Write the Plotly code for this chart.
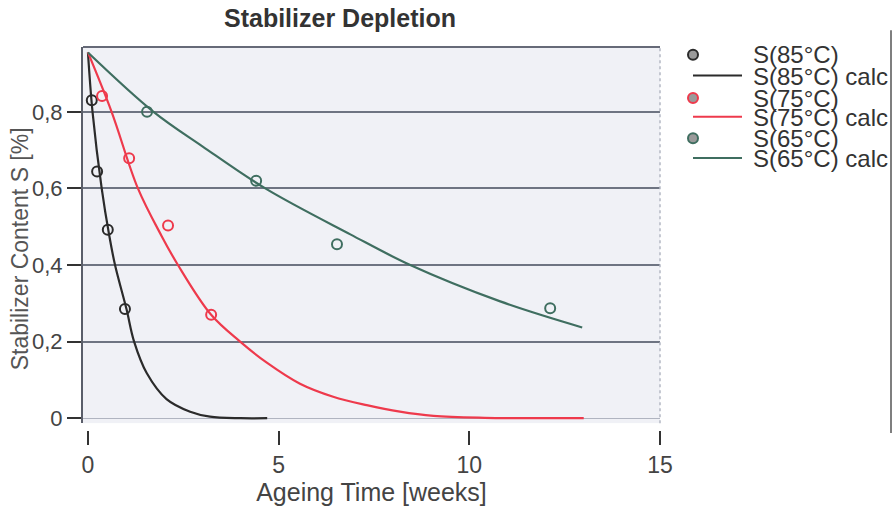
import plotly.graph_objects as go

# ---- data ----
t85_meas = [0.10, 0.24, 0.52, 0.97]
s85_meas = [0.830, 0.644, 0.492, 0.285]
t75_meas = [0.37, 1.08, 2.10, 3.23]
s75_meas = [0.841, 0.679, 0.503, 0.270]
t65_meas = [1.55, 4.41, 6.53, 12.12]
s65_meas = [0.800, 0.620, 0.454, 0.287]

t85_calc = [0, 0.12, 0.36, 0.56, 0.71, 1.01, 1.21, 1.54, 2.06, 2.68, 3.2, 4.0, 4.7]
s85_calc = [0.955, 0.80, 0.60, 0.476, 0.40, 0.285, 0.20, 0.118, 0.05, 0.017, 0.004, 0.0, 0.0]
t75_calc = [0, 0.62, 1.31, 1.93, 2.36, 3.23, 3.99, 4.69, 5.56, 6.43, 7.31, 8.18, 9.06, 10.4, 11.7, 13.0]
s75_calc = [0.955, 0.80, 0.60, 0.476, 0.40, 0.27, 0.20, 0.145, 0.09, 0.056, 0.034, 0.017, 0.006, 0.001, 0.0, 0.0]
t65_calc = [0, 1.72, 3.0, 4.65, 6.88, 8.45, 10.81, 12.96]
s65_calc = [0.955, 0.80, 0.71, 0.60, 0.48, 0.40, 0.305, 0.237]

legend_labels = ["S(85°C)", "S(85°C) calc", "S(75°C)", "S(75°C) calc", "S(65°C)", "S(65°C) calc"]
x_ticks = [0, 5, 10, 15]
y_ticks = [0, 0.2, 0.4, 0.6, 0.8]

C85, C75, C65 = "#2b2b2b", "#ee3a4c", "#3f6e60"
FONT = "Liberation Sans, Arial"

fig = go.Figure()
for tx, sy, c in [(t85_calc, s85_calc, C85), (t75_calc, s75_calc, C75), (t65_calc, s65_calc, C65)]:
    fig.add_trace(go.Scatter(x=tx, y=sy, mode="lines", line=dict(color=c, width=2.2, shape="spline", smoothing=1.0),
                             showlegend=False, hoverinfo="skip"))
for tx, sy, c in [(t85_meas, s85_meas, C85), (t75_meas, s75_meas, C75), (t65_meas, s65_meas, C65)]:
    fig.add_trace(go.Scatter(x=tx, y=sy, mode="markers",
                             marker=dict(symbol="circle-open", size=10, color=c, line=dict(width=2, color=c)),
                             showlegend=False))

W, H = 895, 510
L, R, T, B = 83, 235, 47, 73
pw, ph = W - L - R, H - T - B

def px2x(px):
    return (px - L) / pw

def py2y(py):
    return (H - B - py) / ph

shapes = []
annotations = []
# frame top / right
shapes.append(dict(type="line", xref="x domain", yref="y domain", x0=0, x1=1, y0=1, y1=1,
                   line=dict(color="#666a78", width=2)))
shapes.append(dict(type="line", xref="x domain", yref="y domain", x0=1, x1=1, y0=0, y1=1,
                   line=dict(color="#b4b8c4", width=1.5, dash="dot")))
# scan edge line on the right
shapes.append(dict(type="line", xref="paper", yref="paper", x0=px2x(891), x1=px2x(891), y0=py2y(30), y1=py2y(440),
                   line=dict(color="#555555", width=1.5)))

# legend drawn as annotations and symbol shapes
leg_y = [55, 77, 99, 119, 140, 161]
leg_kind = ["m", "l", "m", "l", "m", "l"]
leg_col = [C85, C85, C75, C75, C65, C65]
for lab, yy, k, c in zip(legend_labels, leg_y, leg_kind, leg_col):
    annotations.append(dict(text=lab, xref="paper", yref="paper", x=px2x(751), y=py2y(yy),
                            xanchor="left", yanchor="middle", showarrow=False,
                            font=dict(family=FONT, size=24, color="#333333")))
    if k == "m":
        shapes.append(dict(type="circle", xref="paper", yref="paper", xsizemode="pixel", ysizemode="pixel",
                           xanchor=px2x(693), yanchor=py2y(yy), x0=-5, x1=5, y0=-5, y1=5,
                           fillcolor="#9a9a9a", line=dict(color=c, width=2)))
    else:
        shapes.append(dict(type="line", xref="paper", yref="paper", x0=px2x(693), x1=px2x(742),
                           y0=py2y(yy - 1), y1=py2y(yy - 1), line=dict(color=c, width=2)))

# y axis title
annotations.append(dict(text="Stabilizer Content S [%]", xref="paper", yref="paper", x=px2x(20), y=py2y(253),
                        xanchor="center", yanchor="middle", textangle=-90, showarrow=False,
                        font=dict(family=FONT, size=23, color="#555555")))

fig.update_layout(
    width=W, height=H,
    margin=dict(l=L, r=R, t=T, b=B),
    paper_bgcolor="white",
    plot_bgcolor="#f0f1f6",
    separators=",.",
    title=dict(text="<b>Stabilizer Depletion</b>", xref="container", yref="container",
               x=340 / W, y=1 - 18 / H, xanchor="center", yanchor="middle",
               font=dict(family=FONT, size=25, color="#333333")),
    xaxis=dict(range=[-0.13, 15], anchor="free", position=0, tickvals=x_ticks,
               ticks="outside", ticklen=14, tickwidth=2, tickcolor="#333333",
               showline=False, showgrid=False, zeroline=False,
               tickfont=dict(family=FONT, size=23, color="#444444"),
               title=dict(text="Ageing Time [weeks]", standoff=3,
                          font=dict(family=FONT, size=25, color="#444444"))),
    yaxis=dict(domain=[(H - B - 430) / ph, 1], range=[-5 / 390, 378 / 390], tickvals=y_ticks,
               ticks="outside", ticklen=14, tickwidth=2, tickcolor="#333333",
               showline=True, linecolor="#5a5e6a", linewidth=2,
               showgrid=True, gridcolor="#6e7482", gridwidth=2,
               zeroline=True, zerolinecolor="#b0b4c0", zerolinewidth=1,
               tickfont=dict(family=FONT, size=22, color="#444444")),
    shapes=shapes,
    annotations=annotations,
)

fig.write_html("out.html")
